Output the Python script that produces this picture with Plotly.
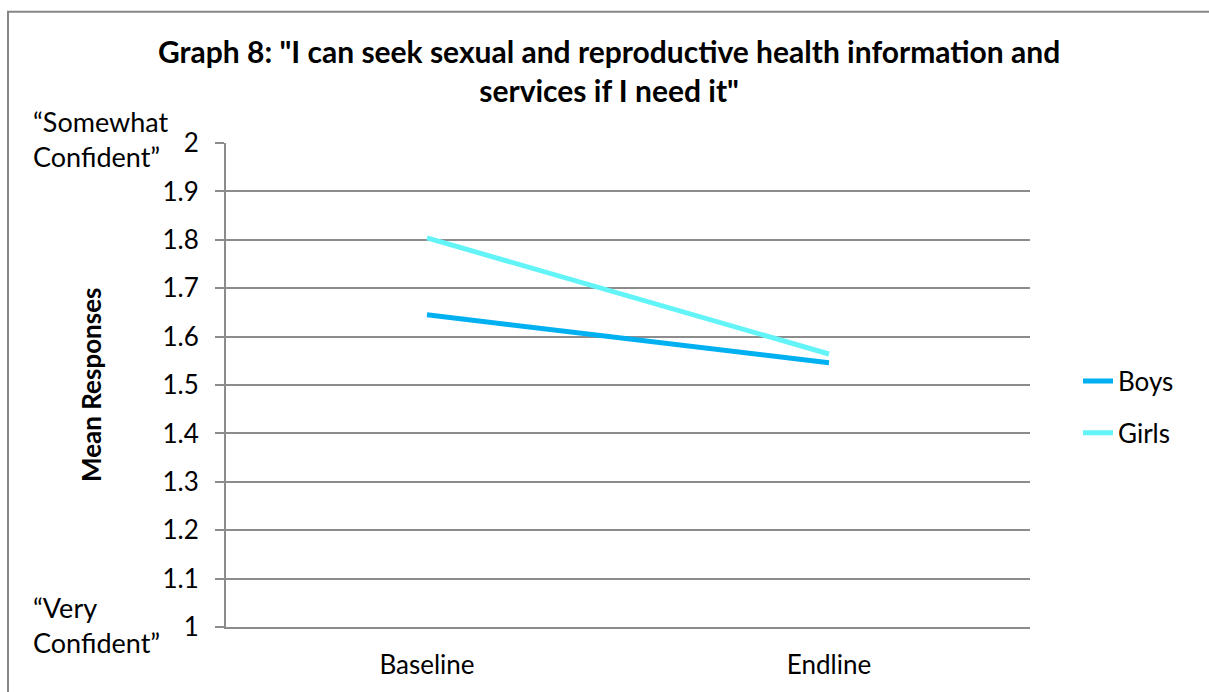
import plotly.graph_objects as go

# Survey waves and mean responses per group
categories = ["Baseline", "Endline"]
boys = [1.645, 1.546]
girls = [1.804, 1.564]
y_ticks = [1.0, 1.1, 1.2, 1.3, 1.4, 1.5, 1.6, 1.7, 1.8, 1.9, 2.0]
y_tick_labels = ["1", "1.1", "1.2", "1.3", "1.4", "1.5", "1.6", "1.7", "1.8", "1.9", "2"]

FONT = "Lato"
GRID = "#8c8c8c"
TXT = 26

W, H = 1209, 692
L, R, T, B = 226, 179, 143, 62
PW, PH = W - L - R, H - T - B


def px_x(px):
    return (px - L) / PW


def px_y(py):
    return (H - B - py) / PH


fig = go.Figure()
fig.add_trace(go.Scatter(x=categories, y=boys, mode="lines", name="Boys",
                         legendgroup="boys",
                         line=dict(color="#00B0F0", width=5)))
fig.add_trace(go.Scatter(x=categories, y=girls, mode="lines", name="Girls",
                         legendgroup="girls",
                         line=dict(color="#62F4F6", width=5)))

fig.update_layout(
    width=W, height=H,
    margin=dict(l=L, r=R, t=T, b=B),
    paper_bgcolor="white", plot_bgcolor="white",
    font=dict(family=FONT, color="black", size=TXT),
    showlegend=True,
    legend=dict(x=px_x(1078), y=px_y(359), xanchor="left", yanchor="top",
                font=dict(size=TXT, family=FONT), bgcolor="rgba(0,0,0,0)",
                traceorder="grouped", tracegroupgap=15),
    xaxis=dict(type="category", range=[-0.5, 1.5], showgrid=False,
               showline=True, linecolor=GRID, linewidth=2, ticks="",
               ticklabelstandoff=14,
               tickfont=dict(size=TXT, family=FONT), zeroline=False),
    yaxis=dict(range=[1, 2], tickvals=y_ticks, ticktext=y_tick_labels,
               showgrid=True, gridcolor=GRID, gridwidth=1.5,
               showline=True, linecolor=GRID, linewidth=2,
               ticks="outside", ticklen=9, tickcolor=GRID, tickwidth=1.5,
               ticklabelstandoff=11,
               tickfont=dict(size=TXT, family=FONT), zeroline=False),
)

# Title
fig.add_annotation(
    text="<b>Graph 8: \"I can seek sexual and reproductive health information and<br>services if I need it\"</b>",
    xref="paper", yref="paper", x=px_x(609), y=px_y(70), xanchor="center", yanchor="middle",
    showarrow=False, align="center", font=dict(size=30, family=FONT, color="black"))

# Y axis title
fig.add_annotation(text="<b>Mean Responses</b>", xref="paper", yref="paper",
                   x=px_x(91), y=0.5, xanchor="center", yanchor="middle",
                   textangle=-90, showarrow=False,
                   font=dict(size=TXT, family=FONT, color="black"))

# Scale anchors
fig.add_annotation(text="\u201cSomewhat<br>Confident\u201d", xref="paper", yref="paper",
                   x=px_x(31), y=px_y(139), xanchor="left", yanchor="middle",
                   showarrow=False, align="left",
                   font=dict(size=27, family=FONT, color="black"))
fig.add_annotation(text="\u201cVery<br>Confident\u201d", xref="paper", yref="paper",
                   x=px_x(31), y=px_y(628), xanchor="left", yanchor="middle",
                   showarrow=False, align="left",
                   font=dict(size=27, family=FONT, color="black"))

# Chart frame
fig.add_shape(type="rect", xref="paper", yref="paper",
              x0=px_x(8), x1=px_x(1240), y0=px_y(720), y1=px_y(11),
              line=dict(color="#878787", width=2), fillcolor="rgba(0,0,0,0)", layer="below")

fig.write_html("out.html")
